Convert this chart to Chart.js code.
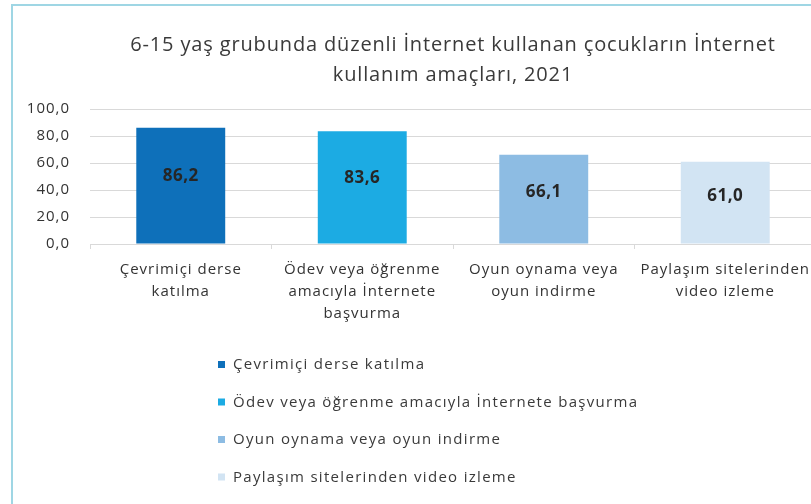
<!DOCTYPE html>
<html lang="tr">
<head>
<meta charset="utf-8">
<script src="https://cdn.jsdelivr.net/npm/chart.js@4.4.1/dist/chart.umd.min.js"></script>
<style>
  html, body { margin: 0; padding: 0; background: #fff; overflow: hidden; }
  #frame {
    position: absolute; left: 11px; top: 4px; width: 900px; height: 600px;
    border-top: 2px solid #9fd6e4; border-left: 2px solid #9fd6e4;
  }
  #wrap { position: absolute; left: 0; top: 0; width: 820px; height: 504px; }
</style>
</head>
<body>
<div id="frame"></div>
<div id="wrap"><canvas id="chart"></canvas></div>
<script>
// Veriler
const titleLines = ['6-15 yaş grubunda düzenli İnternet kullanan çocukların İnternet', 'kullanım amaçları, 2021'];
const categories = ['Çevrimiçi derse katılma', 'Ödev veya öğrenme amacıyla İnternete başvurma', 'Oyun oynama veya oyun indirme', 'Paylaşım sitelerinden video izleme'];
const axisLabels = [['Çevrimiçi derse', 'katılma'], ['Ödev veya öğrenme', 'amacıyla İnternete', 'başvurma'], ['Oyun oynama veya', 'oyun indirme'], ['Paylaşım sitelerinden', 'video izleme']];
const values = [86.2, 83.6, 66.1, 61.0];
const colors = ['#0e70ba', '#1cabe3', '#8dbce3', '#d2e4f3'];
const yTicks = [0, 20, 40, 60, 80, 100];

const fmt = v => v.toFixed(1).replace('.', ',');
const FONT = '"Open Sans", "Noto Sans", sans-serif';

// Eksen yazıları için harf aralığı (kaynak görseldeki geniş yazıya yaklaşmak için)
const spacing = {
  id: 'spacing',
  beforeDraw(chart) { chart.ctx.letterSpacing = '1px'; },
  afterDraw(chart) { chart.ctx.letterSpacing = '0px'; }
};

// Başlık: çizim alanının ortasına
const titlePlugin = {
  id: 'titleCenter',
  afterDraw(chart) {
    const { ctx, chartArea } = chart;
    const cx = (chartArea.left + chartArea.right) / 2;
    ctx.save();
    ctx.letterSpacing = '0.85px';
    ctx.fillStyle = '#3a3a3a';
    ctx.font = '20px ' + FONT;
    ctx.textAlign = 'center';
    ctx.textBaseline = 'middle';
    titleLines.forEach((t, i) => ctx.fillText(t, cx, 45 + i * 30));
    ctx.restore();
  }
};

// Çubuk içindeki değer etiketleri
const barLabels = {
  id: 'barLabels',
  afterDatasetsDraw(chart) {
    const { ctx } = chart;
    const meta = chart.getDatasetMeta(0);
    ctx.save();
    ctx.letterSpacing = '0.5px';
    ctx.fillStyle = '#262626';
    ctx.font = 'bold 17px ' + FONT;
    ctx.textAlign = 'center';
    ctx.textBaseline = 'middle';
    meta.data.forEach((bar, i) => {
      const y = bar.y + (bar.base - bar.y) * 0.42;
      ctx.fillText(fmt(values[i]), bar.x, y);
    });
    ctx.restore();
  }
};

// Dikey lejant
const legendList = {
  id: 'legendList',
  afterDraw(chart) {
    const { ctx } = chart;
    ctx.save();
    ctx.letterSpacing = '1.3px';
    ctx.font = '15px ' + FONT;
    ctx.textBaseline = 'middle';
    categories.forEach((c, i) => {
      const y = 365 + i * 37.5;
      ctx.fillStyle = colors[i];
      ctx.fillRect(218, y - 4, 7, 7);
      ctx.fillStyle = '#3a3a3a';
      ctx.fillText(c, 233, y);
    });
    ctx.restore();
  }
};

new Chart(document.getElementById('chart'), {
  type: 'bar',
  data: {
    labels: axisLabels,
    datasets: [{
      data: values,
      backgroundColor: colors,
      barPercentage: 0.49,
      categoryPercentage: 1
    }]
  },
  options: {
    responsive: true,
    maintainAspectRatio: false,
    animation: false,
    layout: { padding: { top: 109, bottom: 170, left: 0, right: 4 } },
    plugins: {
      legend: { display: false },
      tooltip: { enabled: false }
    },
    scales: {
      x: {
        grid: { display: true, drawOnChartArea: false, offset: true, tickLength: 5, color: '#d9d9d9' },
        border: { color: '#d9d9d9' },
        ticks: { color: '#333', font: { family: FONT, size: 15, lineHeight: 1.45 }, padding: 10, maxRotation: 0 },
        afterFit: s => { s.height = 90; }
      },
      y: {
        min: 0,
        max: 100,
        afterBuildTicks: s => { s.ticks = yTicks.map(v => ({ value: v })); },
        grid: { color: '#d9d9d9', drawTicks: false },
        border: { display: false },
        ticks: { color: '#333', font: { family: FONT, size: 15 }, padding: 20, callback: v => fmt(v) },
        afterFit: s => { s.width = 90; }
      }
    }
  },
  plugins: [spacing, titlePlugin, barLabels, legendList]
});
</script>
</body>
</html>
